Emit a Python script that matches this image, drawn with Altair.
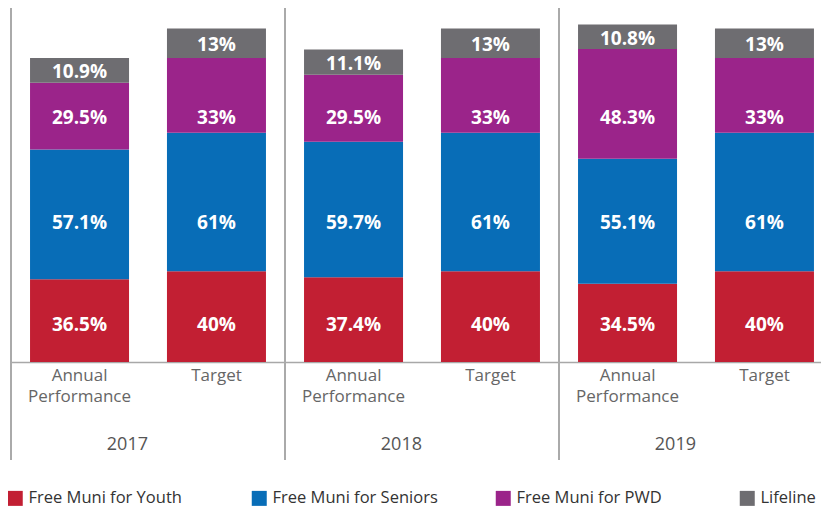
import altair as alt
import pandas as pd

years = ["2017", "2018", "2019"]
kinds = ["Annual Performance", "Target"]
series = ["Free Muni for Youth", "Free Muni for Seniors", "Free Muni for PWD", "Lifeline"]
colors = ["#C21F33", "#086DB7", "#9B248A", "#6E6D71"]

# order of bars: 2017 AP, 2017 T, 2018 AP, 2018 T, 2019 AP, 2019 T
youth = [36.5, 40, 37.4, 40, 34.5, 40]
seniors = [57.1, 61, 59.7, 61, 55.1, 61]
pwd = [29.5, 33, 29.5, 33, 48.3, 33]
lifeline = [10.9, 13, 11.1, 13, 10.8, 13]

rows = []
bar_keys = [(y, k) for y in years for k in kinds]
for s_idx, (s, vals) in enumerate(zip(series, [youth, seniors, pwd, lifeline])):
    for (y, k), v in zip(bar_keys, vals):
        rows.append({"year": y, "kind": k, "series": s, "idx": s_idx,
                     "value": v, "label": f"{v:g}%"})
df = pd.DataFrame(rows)
cats = pd.DataFrame([{"year": y, "kind": k} for y, k in bar_keys])
yr = pd.DataFrame({"year": years})

H = 354
W = 810
x_enc = alt.X("year:N",
              scale=alt.Scale(domain=years, paddingInner=0, paddingOuter=0, range=[0, 822]),
              axis=alt.Axis(title=None, labelAngle=0, labelFontSize=18, labelColor="#555555",
                            labelPadding=82, ticks=False, grid=False,
                            domainColor="#A8A8A8", domainWidth=1.5))
xo_enc = alt.XOffset("kind:N", scale=alt.Scale(domain=kinds, paddingInner=0.277, paddingOuter=0.139))

base = alt.Chart(df).transform_stack(
    stack="value", groupby=["year", "kind"], as_=["y0", "y1"],
    sort=[alt.SortField("idx", order="ascending")])

bars = base.mark_bar().encode(
    x=x_enc,
    xOffset=xo_enc,
    y=alt.Y("y0:Q", scale=alt.Scale(domain=[0, 156], nice=False), axis=None),
    y2="y1:Q",
    color=alt.Color("series:N", scale=alt.Scale(domain=series, range=colors),
                    legend=alt.Legend(orient="none", legendX=-4, legendY=482, direction="horizontal",
                                      columns=4, title=None, symbolType="square", symbolSize=225,
                                      symbolStrokeWidth=0, labelFontSize=16.5, labelColor="#333333",
                                      gridAlign="all", columnPadding=57, labelOffset=5,
                                      labelLimit=300)),
)

# labels of the lower three series sit on one common line per series (as in the source);
# the top series is centred in its segment
texts = base.transform_calculate(
    mid="(datum.y0 + datum.y1) / 2"
).transform_joinaggregate(
    min_mid="min(mid)", groupby=["series"]
).transform_calculate(
    pos="datum.idx == 3 ? datum.mid : datum.min_mid"
).mark_text(color="white", fontWeight="bold", fontSize=19, dy=2).encode(
    x=alt.X("year:N"), xOffset=alt.XOffset("kind:N"),
    y=alt.Y("pos:Q"), text="label:N")

sub = alt.Chart(cats).mark_text(lineBreak=" ", baseline="top", fontSize=17, color="#666666",
                                lineHeight=21).encode(
    x=alt.X("year:N"), xOffset=alt.XOffset("kind:N"),
    y=alt.value(H + 6), text="kind:N")

rules = alt.Chart(yr).mark_rule(color="#AAAAAA", strokeWidth=2).encode(
    x=alt.X("year:N", bandPosition=0), y=alt.value(0), y2=alt.value(452))

chart = alt.layer(rules, bars, texts, sub).properties(
    width=W, height=H,
    autosize=alt.AutoSizeParams(type="none"),
    padding={"left": 3, "top": 0, "right": 0, "bottom": 146},
).configure(font="Open Sans").configure_view(stroke=None)

chart.save("out.html", embed_options={"renderer": "svg", "actions": False})
